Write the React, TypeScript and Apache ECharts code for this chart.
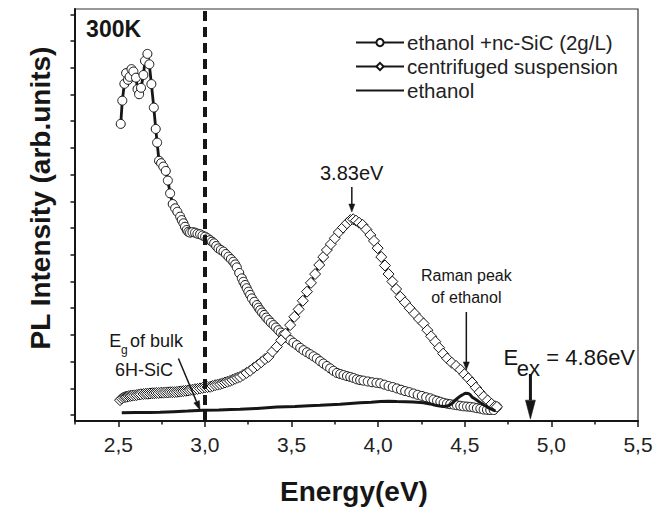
import React, { useEffect, useRef } from "react";
import * as echarts from "echarts";

// ---------- data (energy eV, PL intensity in arb. units = y tick units) ----------
const circleE = [2.514,2.523,2.535,2.545,2.556,2.565,2.576,2.587,2.602,2.611,2.620,2.631,2.645,2.654,2.668,2.679,2.691,2.705,2.716,2.724,2.735,2.747,2.760,2.774,2.786,2.799,2.814,2.828,2.841,2.857,2.866,2.876,2.885,2.895,2.904,2.914,2.928,2.943,2.957,2.972,2.986,3.001,3.015,3.030,3.041,3.053,3.065,3.078,3.092,3.107,3.121,3.136,3.150,3.164,3.175,3.184,3.198,3.213,3.222,3.232,3.241,3.251,3.261,3.271,3.285,3.300,3.309,3.319,3.330,3.342,3.354,3.367,3.381,3.396,3.410,3.424,3.438,3.453,3.472,3.492,3.511,3.531,3.550,3.569,3.589,3.608,3.627,3.646,3.665,3.684,3.704,3.723,3.742,3.762,3.781,3.800,3.820,3.839,3.858,3.877,3.896,3.915,3.940,3.965,3.990,4.012,4.036,4.060,4.084,4.108,4.132,4.156,4.180,4.204,4.228,4.252,4.277,4.301,4.320,4.340,4.359,4.378,4.397,4.416,4.436,4.455,4.474,4.493,4.513,4.532,4.551,4.570,4.590,4.609,4.628,4.647,4.667,4.686];
const circleI = [10.90,11.77,12.40,12.80,12.55,12.66,12.95,12.86,12.63,12.20,12.01,12.25,12.73,13.26,13.52,13.13,12.39,11.51,10.71,10.20,9.52,9.43,9.30,9.14,8.78,8.30,7.90,7.74,7.61,7.43,7.30,7.18,7.05,6.93,6.86,6.83,6.85,6.83,6.79,6.77,6.72,6.68,6.62,6.55,6.49,6.43,6.33,6.24,6.18,6.12,6.03,5.93,5.84,5.74,5.64,5.53,5.32,5.12,4.99,4.87,4.75,4.62,4.50,4.37,4.24,4.12,4.02,3.93,3.84,3.75,3.65,3.56,3.46,3.37,3.28,3.18,3.09,3.00,2.90,2.81,2.71,2.62,2.52,2.43,2.35,2.28,2.20,2.12,2.02,1.93,1.84,1.75,1.66,1.58,1.54,1.50,1.46,1.43,1.39,1.34,1.31,1.29,1.26,1.23,1.21,1.19,1.14,1.09,1.05,1.00,0.95,0.90,0.86,0.81,0.76,0.72,0.67,0.63,0.58,0.54,0.50,0.46,0.43,0.41,0.39,0.37,0.35,0.33,0.32,0.31,0.29,0.26,0.24,0.21,0.20,0.19,0.19,0.31];

const diamondE = [2.510,2.520,2.530,2.540,2.549,2.560,2.570,2.580,2.593,2.606,2.618,2.630,2.645,2.658,2.670,2.683,2.696,2.708,2.720,2.733,2.747,2.760,2.773,2.786,2.799,2.812,2.825,2.838,2.851,2.864,2.876,2.889,2.902,2.914,2.928,2.943,2.957,2.972,2.986,3.001,3.015,3.030,3.044,3.059,3.073,3.088,3.102,3.116,3.130,3.145,3.159,3.174,3.188,3.203,3.220,3.240,3.261,3.282,3.304,3.325,3.347,3.367,3.390,3.415,3.440,3.465,3.492,3.516,3.541,3.565,3.589,3.612,3.636,3.660,3.683,3.704,3.727,3.750,3.773,3.797,3.820,3.840,3.856,3.872,3.890,3.910,3.932,3.955,3.976,3.997,4.018,4.039,4.060,4.082,4.104,4.128,4.155,4.182,4.210,4.236,4.262,4.284,4.306,4.330,4.352,4.375,4.399,4.425,4.450,4.475,4.498,4.520,4.542,4.564,4.586,4.609,4.632,4.655,4.675,4.686];
const diamondI = [0.56,0.62,0.66,0.68,0.69,0.71,0.72,0.73,0.74,0.75,0.77,0.78,0.79,0.80,0.80,0.81,0.82,0.82,0.83,0.83,0.84,0.84,0.85,0.85,0.86,0.86,0.86,0.87,0.88,0.89,0.90,0.91,0.92,0.94,0.95,0.97,0.98,1.00,1.02,1.04,1.05,1.06,1.09,1.12,1.14,1.16,1.19,1.22,1.25,1.28,1.32,1.36,1.40,1.43,1.50,1.58,1.66,1.77,1.87,1.98,2.10,2.18,2.38,2.56,2.80,3.05,3.37,3.68,3.96,4.28,4.62,4.95,5.28,5.62,5.92,6.18,6.40,6.62,6.85,7.02,7.18,7.30,7.33,7.28,7.20,7.12,6.95,6.74,6.52,6.25,5.92,5.60,5.28,5.00,4.72,4.43,4.22,4.00,3.80,3.60,3.43,3.18,2.95,2.75,2.52,2.30,2.12,1.96,1.84,1.70,1.53,1.38,1.22,1.03,0.86,0.69,0.55,0.42,0.33,0.31];

const ethanolE = [2.520,2.600,2.680,2.741,2.820,2.900,2.991,3.080,3.150,3.203,3.300,3.415,3.520,3.600,3.665,3.780,3.896,3.960,4.012,4.060,4.108,4.160,4.203,4.262,4.300,4.330,4.355,4.378,4.400,4.416,4.430,4.445,4.460,4.474,4.490,4.503,4.520,4.532,4.543,4.560,4.578,4.596,4.613,4.630,4.647,4.662,4.676];
const ethanolI = [0.09,0.10,0.10,0.11,0.13,0.15,0.18,0.19,0.21,0.22,0.25,0.30,0.32,0.35,0.37,0.41,0.46,0.48,0.51,0.52,0.51,0.50,0.49,0.46,0.42,0.37,0.34,0.32,0.34,0.39,0.46,0.56,0.64,0.71,0.77,0.82,0.81,0.76,0.67,0.60,0.52,0.44,0.37,0.30,0.24,0.20,0.16];

const xMajorTicks = [2.5, 3.0, 3.5, 4.0, 4.5, 5.0, 5.5];
const xMinorTicks = [2.25, 2.75, 3.25, 3.75, 4.25, 4.75, 5.25];
const yTicks = [0, 1, 2, 3, 4, 5, 6, 7, 8, 9, 10, 11, 12, 13, 14, 15];
const seriesNames = ["ethanol +nc-SiC (2g/L)", "centrifuged suspension", "ethanol"];
const bandGapE = 3.0;

const X_MIN = 2.25, X_MAX = 5.5, Y_MIN = -0.22, Y_MAX = 15.2;
const FONT = "'Liberation Sans', Arial, Helvetica, sans-serif";
const INK = "#161616";

const zip = (a: number[], b: number[]) => a.map((v, i) => [v, b[i]]);

function arrow(x1: number, y1: number, x2: number, y2: number, w: number, headL: number, headW: number) {
  const dx = x2 - x1, dy = y2 - y1;
  const len = Math.sqrt(dx * dx + dy * dy);
  const ux = dx / len, uy = dy / len;
  const bx = x2 - ux * headL, by = y2 - uy * headL;
  const px = -uy, py = ux;
  return [
    { type: "line", shape: { x1, y1, x2: bx, y2: by }, style: { stroke: INK, lineWidth: w }, z: 100 },
    {
      type: "polygon",
      shape: { points: [[x2, y2], [bx + px * headW / 2, by + py * headW / 2], [bx - px * headW / 2, by - py * headW / 2]] },
      style: { fill: INK, stroke: INK, lineWidth: 0.5 },
      z: 100,
    },
  ];
}

function txt(x: number, y: number, text: string, size: number, opts: any = {}) {
  return {
    type: "text",
    x, y, z: 100,
    rotation: opts.rotation || 0,
    style: {
      text,
      fontFamily: FONT,
      fontSize: size,
      fontWeight: opts.bold ? "bold" : "normal",
      fill: INK,
      align: opts.align || "left",
      verticalAlign: "middle",
    },
  };
}

export default function App() {
  const ref = useRef<HTMLDivElement>(null);
  useEffect(() => {
    if (!ref.current) return;
    const chart = echarts.init(ref.current, null, { renderer: "svg" });
    const option: any = {
      animation: false,
      backgroundColor: "#fff",
      grid: { left: 75, right: 30, top: 9, bottom: 88, show: true, borderColor: "#333", borderWidth: 1.2, backgroundColor: "transparent" },
      legend: {
        orient: "vertical",
        left: 350,
        top: 27,
        itemWidth: 48,
        itemHeight: 9,
        itemGap: 3,
        data: [
          { name: seriesNames[0] },
          { name: seriesNames[1] },
          { name: seriesNames[2], itemStyle: { opacity: 0 } },
        ],
        textStyle: { fontFamily: FONT, fontSize: 20.5, color: "#222", padding: [0, 0, 0, -2] },
      },
      xAxis: [
        {
          type: "value", min: X_MIN, max: X_MAX, position: "bottom",
          axisLine: { show: true, onZero: false, lineStyle: { color: INK, width: 2 } },
          axisTick: { show: true, customValues: xMajorTicks, length: 6, lineStyle: { color: INK, width: 1.5 } },
          axisLabel: {
            show: true, customValues: xMajorTicks, margin: 13,
            formatter: (v: number) => v.toFixed(1).replace(".", ","),
            fontFamily: FONT, fontSize: 21, color: "#222",
          },
          splitLine: { show: false },
        },
        {
          type: "value", min: X_MIN, max: X_MAX, position: "bottom",
          axisLine: { show: false, onZero: false },
          axisTick: { show: true, customValues: xMinorTicks, length: 3.5, lineStyle: { color: INK, width: 1.5 } },
          axisLabel: { show: false },
          splitLine: { show: false },
        },
      ],
      yAxis: {
        type: "value", min: Y_MIN, max: Y_MAX,
        axisLine: { show: true, onZero: false, lineStyle: { color: INK, width: 2 } },
        axisTick: { show: true, customValues: yTicks, length: 4.5, lineStyle: { color: INK, width: 1.5 } },
        axisLabel: { show: false },
        splitLine: { show: false },
      },
      series: [
        {
          name: seriesNames[0], type: "line", data: zip(circleE, circleI),
          symbol: "circle", symbolSize: 9, showSymbol: true,
          itemStyle: { color: "#fff", borderColor: INK, borderWidth: 1 },
          lineStyle: { color: INK, width: 2.8 },
          z: 2,
        },
        {
          name: seriesNames[1], type: "line", data: zip(diamondE, diamondI),
          symbol: "diamond", symbolSize: 11, showSymbol: true,
          itemStyle: { color: "#fff", borderColor: INK, borderWidth: 1 },
          lineStyle: { color: INK, width: 2.8 },
          z: 3,
        },
        {
          name: seriesNames[2], type: "line", data: zip(ethanolE, ethanolI),
          symbol: "none", showSymbol: false,
          itemStyle: { color: INK },
          lineStyle: { color: INK, width: 3 },
          z: 4,
          markLine: {
            silent: true, symbol: ["none", "none"], label: { show: false },
            lineStyle: { color: INK, width: 4, type: [10, 6] },
            data: [{ xAxis: bandGapE }],
          },
        },
      ],
    };
    chart.setOption(option);

    const P = (e: number, i: number) => chart.convertToPixel({ gridIndex: 0 }, [e, i]) as number[];
    const g: any[] = [];
    // axis titles
    g.push(txt(40, 198, "PL Intensity (arb.units)", 28, { bold: true, align: "center", rotation: Math.PI / 2 }));
    g.push(txt(354, 491, "Energy(eV)", 28, { bold: true, align: "center" }));
    // 300K
    let p = P(2.314, 14.44);
    g.push(txt(p[0], p[1], "300K", 23, { bold: true }));
    // 3.83eV
    p = P(3.847, 9.06);
    g.push(txt(p[0], p[1], "3.83eV", 20, { align: "center" }));
    let a = P(3.848, 8.54), b = P(3.848, 7.6);
    g.push(...arrow(a[0], a[1], b[0], b[1], 1.5, 8, 6));
    // Raman peak
    p = P(4.509, 5.21);
    g.push(txt(p[0], p[1], "Raman peak", 16, { align: "center" }));
    p = P(4.509, 4.42);
    g.push(txt(p[0], p[1], "of ethanol", 16, { align: "center" }));
    a = P(4.509, 3.86); b = P(4.509, 1.69);
    g.push(...arrow(a[0], a[1], b[0], b[1], 1.5, 8, 6));
    // E_ex
    p = P(4.723, 2.17);
    g.push(txt(p[0], p[1], "E", 22));
    p = P(4.8, 1.76);
    g.push(txt(p[0], p[1], "ex", 22));
    p = P(4.971, 2.17);
    g.push(txt(p[0], p[1], "= 4.86eV", 22));
    a = P(4.879, 1.54); b = P(4.879, -0.15);
    g.push(...arrow(a[0], a[1], b[0], b[1], 3, 19, 10));
    // Eg of bulk 6H-SiC
    p = P(2.448, 2.77);
    g.push(txt(p[0], p[1], "E", 18));
    p = P(2.516, 2.43);
    g.push(txt(p[0], p[1], "g", 12));
    p = P(2.568, 2.77);
    g.push(txt(p[0], p[1], "of bulk", 18));
    p = P(2.481, 1.69);
    g.push(txt(p[0], p[1], "6H-SiC", 18));
    a = P(2.847, 2.12); b = P(2.972, 0.19);
    g.push(...arrow(a[0], a[1], b[0], b[1], 1.5, 9, 6));

    chart.setOption({ graphic: g });
    return () => chart.dispose();
  }, []);
  return <div ref={ref} style={{ position: "fixed", left: 0, top: 0, width: 668, height: 509, background: "#fff" }} />;
}
